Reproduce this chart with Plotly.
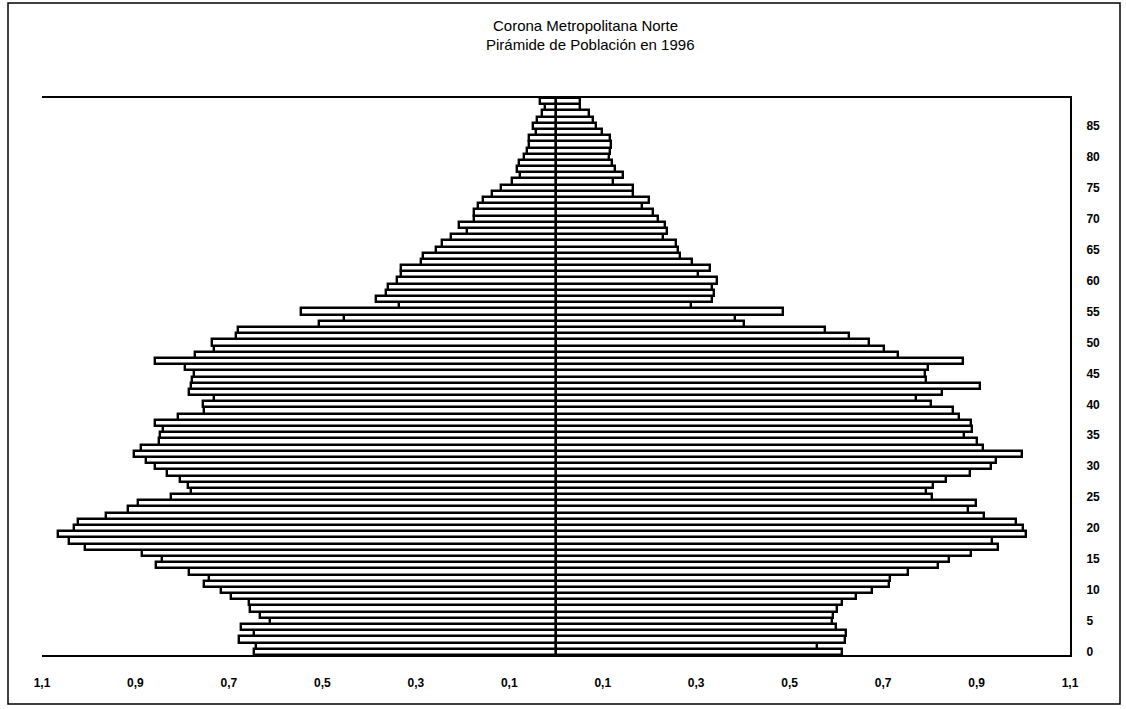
import plotly.graph_objects as go

ages = list(range(0, 90))

# Percent of total population, men (left) and women (right)
men = [0.647, 0.641, 0.679, 0.647, 0.674, 0.612, 0.633, 0.655, 0.658, 0.696,
       0.716, 0.753, 0.742, 0.785, 0.855, 0.844, 0.885, 1.007, 1.043, 1.066,
       1.032, 1.023, 0.962, 0.917, 0.894, 0.823, 0.782, 0.787, 0.804, 0.832,
       0.859, 0.878, 0.903, 0.889, 0.849, 0.847, 0.842, 0.859, 0.808, 0.753,
       0.756, 0.731, 0.785, 0.782, 0.780, 0.774, 0.793, 0.859, 0.773, 0.731,
       0.737, 0.684, 0.681, 0.507, 0.454, 0.546, 0.336, 0.385, 0.363, 0.360,
       0.340, 0.331, 0.332, 0.289, 0.284, 0.256, 0.243, 0.225, 0.190, 0.207,
       0.175, 0.175, 0.168, 0.157, 0.136, 0.117, 0.095, 0.076, 0.083, 0.080,
       0.068, 0.062, 0.057, 0.057, 0.042, 0.049, 0.040, 0.030, 0.024, 0.035]

women = [0.613, 0.559, 0.619, 0.620, 0.599, 0.590, 0.593, 0.602, 0.613, 0.642,
         0.676, 0.712, 0.715, 0.754, 0.817, 0.842, 0.889, 0.945, 0.932, 1.005,
         0.999, 0.985, 0.917, 0.881, 0.898, 0.805, 0.791, 0.806, 0.834, 0.885,
         0.930, 0.942, 0.998, 0.913, 0.902, 0.874, 0.891, 0.889, 0.862, 0.849,
         0.803, 0.771, 0.827, 0.907, 0.792, 0.789, 0.797, 0.870, 0.731, 0.701,
         0.669, 0.626, 0.575, 0.402, 0.383, 0.486, 0.289, 0.334, 0.338, 0.334,
         0.345, 0.304, 0.329, 0.290, 0.265, 0.261, 0.256, 0.228, 0.237, 0.234,
         0.219, 0.207, 0.185, 0.200, 0.165, 0.165, 0.123, 0.143, 0.127, 0.119,
         0.114, 0.115, 0.118, 0.115, 0.098, 0.085, 0.080, 0.071, 0.052, 0.052]

x_tickvals = [-1.1, -0.9, -0.7, -0.5, -0.3, -0.1, 0.1, 0.3, 0.5, 0.7, 0.9, 1.1]
x_ticktext = ["1,1", "0,9", "0,7", "0,5", "0,3", "0,1", "0,1", "0,3", "0,5", "0,7", "0,9", "1,1"]
y_tickvals = list(range(0, 90, 5))

title_lines = ["Corona Metropolitana Norte", "Pirámide de Población en 1996"]

bar_style = dict(color="white", line=dict(color="black", width=2.4))

fig = go.Figure()
fig.add_trace(go.Bar(
    y=ages, x=[-v for v in men], orientation="h", name="Varones",
    marker=bar_style, hoverinfo="skip",
))
fig.add_trace(go.Bar(
    y=ages, x=women, orientation="h", name="Mujeres",
    marker=bar_style, hoverinfo="skip",
))

W, H = 1126, 709
L, R, T, B = 42, 1070, 98, 655

def px(xp):
    return (xp - L) / (R - L)

def py(yp):
    return (B - yp) / (B - T)

fig.update_layout(
    width=W, height=H,
    margin=dict(l=L, r=W - R, t=T, b=H - B),
    paper_bgcolor="white", plot_bgcolor="white",
    barmode="overlay", bargap=0.0,
    showlegend=False,
    font=dict(family="Liberation Sans, Arial, sans-serif", color="black"),
    xaxis=dict(
        range=[-1.1, 1.1], tickvals=x_tickvals, ticktext=x_ticktext,
        showgrid=False, zeroline=False,
        showline=True, mirror=True, linecolor="black", linewidth=2,
        ticks="", ticklabelstandoff=16,
        tickfont=dict(size=12, weight="bold", color="black"),
    ),
    yaxis=dict(
        range=[-0.5, 89.5], tickvals=y_tickvals, side="right",
        showgrid=False, zeroline=False,
        showline=True, linecolor="black", linewidth=2,
        ticks="", ticklabelstandoff=12,
        tickfont=dict(size=12, weight="bold", color="black"),
    ),
    shapes=[
        dict(type="rect", xref="paper", yref="paper",
             x0=px(8), x1=px(1120), y0=py(704), y1=py(3),
             line=dict(color="black", width=1.5), fillcolor="rgba(0,0,0,0)"),
    ],
    annotations=[
        dict(text=title_lines[0], xref="paper", yref="paper", x=px(585), y=py(25),
             showarrow=False, font=dict(size=15, color="black"), xanchor="center", yanchor="middle"),
        dict(text=title_lines[1], xref="paper", yref="paper", x=px(590), y=py(45),
             showarrow=False, font=dict(size=15, color="black"), xanchor="center", yanchor="middle"),
    ],
)

fig.write_html(
    "out.html",
    config={"displayModeBar": False},
    post_script="document.body.style.margin='0';document.body.style.overflow='hidden';",
)
